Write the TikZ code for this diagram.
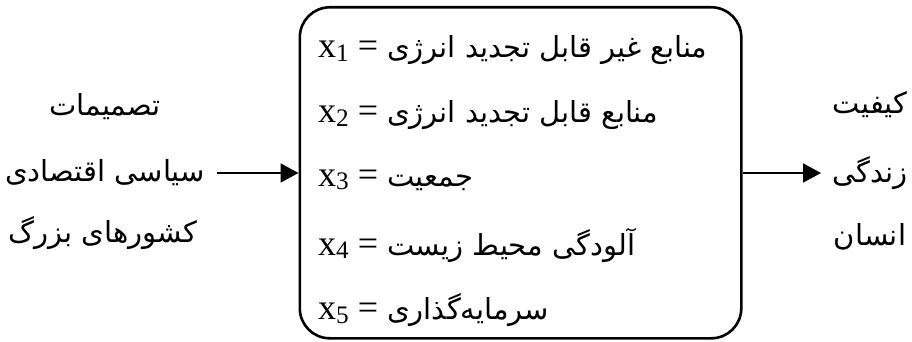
\documentclass[tikz,border=0pt]{standalone}
\usepackage{fontspec}
\setmainfont{Liberation Serif}
\newfontfamily\fa[Script=Arabic]{DejaVu Sans}
\TeXXeTstate=1
\usetikzlibrary{arrows.meta}
\newcommand{\xs}[1]{x\raisebox{-0.1em}{\scalebox{0.7}{#1}}}
\newcommand{\fasize}{\fa\fontsize{29pt}{32pt}\selectfont}
\tikzset{
  fatext/.style={inner sep=0pt, font=\fasize},
  rowtext/.style={inner sep=0pt, anchor=west, font=\fontsize{36pt}{38pt}\selectfont},
  conn/.style={line width=1.7pt, -{Triangle[length=18pt,width=19pt]}},
  frame/.style={draw, line width=2.6pt, rounded corners=30pt, inner sep=0pt}
}
\begin{document}
\begin{tikzpicture}[x=1pt,y=-1pt]
\useasboundingbox (0,0) rectangle (912,342);
\node[frame, minimum width=441.5pt, minimum height=331pt, anchor=north west] (box) at (298.5,6) {};
\node[rowtext] (r1) at (318,50) {\xs{1} = {\fasize\beginR منابع غیر قابل تجدید انرژی\endR}};
\node[rowtext] (r2) at (318,115) {\xs{2} = {\fasize\beginR منابع قابل تجدید انرژی\endR}};
\node[rowtext] (r3) at (318,180) {\xs{3} = {\fasize\beginR جمعیت\endR}};
\node[rowtext] (r4) at (318,245) {\xs{4} = {\fasize\beginR آلودگی محیط زیست\endR}};
\node[rowtext] (r5) at (318,310) {\xs{5} = {\fasize\beginR سرمایه‌گذاری\endR}};
\node[fatext] (l1) at (105,107) {\beginR تصمیمات\endR};
\node[fatext] (l2) at (105,173) {\beginR سیاسی اقتصادی\endR};
\node[fatext] (l3) at (103,233) {\beginR کشورهای بزرگ\endR};
\node[fatext] (o1) at (870,105) {\beginR کیفیت\endR};
\node[fatext] (o2) at (870,173) {\beginR زندگی\endR};
\node[fatext] (o3) at (870,237) {\beginR انسان\endR};
\coordinate (a1) at (217,173);
\coordinate (b2) at (821,173);
\draw[conn] (a1) -- (box.west |- a1);
\draw[conn] (box.east |- b2) -- (b2);
\end{tikzpicture}
\end{document}
